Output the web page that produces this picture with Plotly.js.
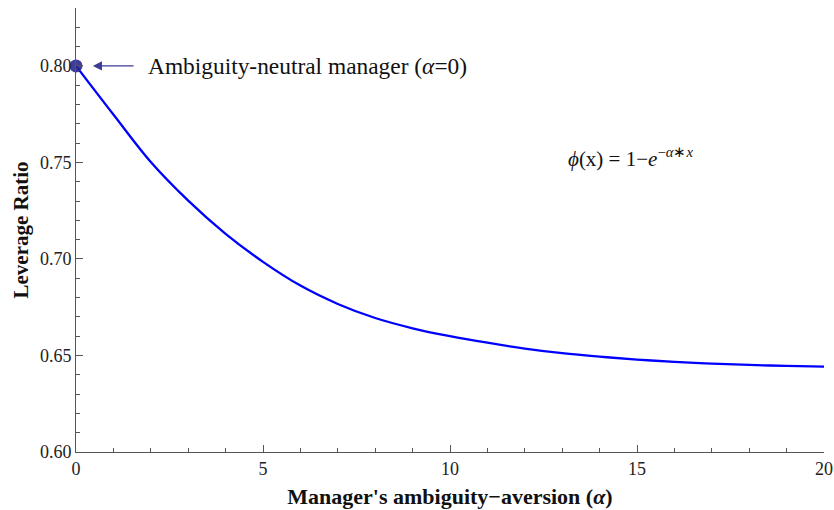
<!DOCTYPE html>
<html>
<head>
<meta charset="utf-8">
<script src="https://cdn.plot.ly/plotly-3.0.1.min.js"></script>
<style>
html,body{margin:0;padding:0;background:#fff;}
#chart{width:834px;height:510px;}
</style>
</head>
<body>
<div id="chart"></div>
<script>
// Manager's ambiguity-aversion (alpha)
const alphaValues = [0,1,2,3,4,5,6,7,8,9,10,11,12,13,14,15,16,17,18,19,20];
// Leverage ratio
const leverageRatio = [0.8000,0.7748,0.7502,0.7302,0.7130,0.6985,0.6862,0.6767,0.6694,0.6641,0.6600,0.6566,0.6536,0.6512,0.6494,0.6479,0.6467,0.6458,0.6451,0.6446,0.6442];
// Highlighted point: ambiguity-neutral manager
const neutralX = [0];
const neutralY = [0.800];

const xTickVals = [0,5,10,15,20];
const yTickVals = [0.60,0.65,0.70,0.75,0.80];

const serif = "Liberation Serif, Times New Roman, serif";

const traces = [
  {
    x: alphaValues, y: leverageRatio, type: 'scatter', mode: 'lines',
    line: {color: 'rgb(0,0,255)', width: 2.3, shape: 'spline', smoothing: 1},
    hoverinfo: 'skip', cliponaxis: false
  },
  {
    x: neutralX, y: neutralY, type: 'scatter', mode: 'markers',
    marker: {color: 'rgba(40,40,140,0.9)', size: 13},
    cliponaxis: false
  }
];

const layout = {
  width: 834, height: 510,
  margin: {l: 76, r: 10, t: 8, b: 58},
  paper_bgcolor: '#fff', plot_bgcolor: '#fff',
  showlegend: false,
  font: {family: serif, color: '#222', size: 18},
  xaxis: {
    range: [0, 20], tickvals: xTickVals,
    showgrid: false, zeroline: false,
    showline: true, linecolor: '#555', linewidth: 1,
    ticks: 'inside', ticklen: 7, tickcolor: '#555', tickwidth: 1,
    tickfont: {family: serif, size: 18, color: '#222'},
    minor: {dtick: 1, ticks: 'inside', ticklen: 4, tickcolor: '#555', showgrid: false},
    title: {text: "<b>Manager's ambiguity\u2212aversion (<i>α</i>)</b>", font: {family: serif, size: 22, color: '#111'}, standoff: 11},
    fixedrange: true
  },
  yaxis: {
    range: [0.60, 0.83], tickvals: yTickVals, tickformat: '.2f',
    showgrid: false, zeroline: false,
    showline: true, linecolor: '#555', linewidth: 1,
    ticks: 'inside', ticklen: 7, tickcolor: '#555', tickwidth: 1,
    tickfont: {family: serif, size: 18, color: '#222'},
    minor: {dtick: 0.01, ticks: 'inside', ticklen: 4, tickcolor: '#555', showgrid: false},
    title: {text: '<b>Leverage Ratio</b>', font: {family: serif, size: 21, color: '#111'}, standoff: 5},
    fixedrange: true
  },
  annotations: [
    {
      x: 0.45, y: 0.80, xref: 'x', yref: 'y',
      ax: 1.58, ay: 0.80, axref: 'x', ayref: 'y',
      text: '', showarrow: true, arrowhead: 2, arrowsize: 1.3, arrowwidth: 1.4,
      arrowcolor: '#3c3c96'
    },
    {
      x: 1.88, y: 0.80, xref: 'x', yref: 'y', xanchor: 'left', yanchor: 'middle',
      text: 'Ambiguity-neutral manager (<i>α</i>=0)', showarrow: false,
      font: {family: serif, size: 23.4, color: '#111'}
    },
    {
      x: 13.1, y: 0.7525, xref: 'x', yref: 'y', xanchor: 'left', yanchor: 'middle',
      text: '<i>ϕ</i>(x) = 1\u2212<i>e</i><sup>\u2212<i>α</i>∗<i>x</i></sup>', showarrow: false,
      font: {family: serif, size: 21, color: '#111'}
    }
  ]
};

Plotly.newPlot('chart', traces, layout, {displayModeBar: false, staticPlot: true});
</script>
</body>
</html>
